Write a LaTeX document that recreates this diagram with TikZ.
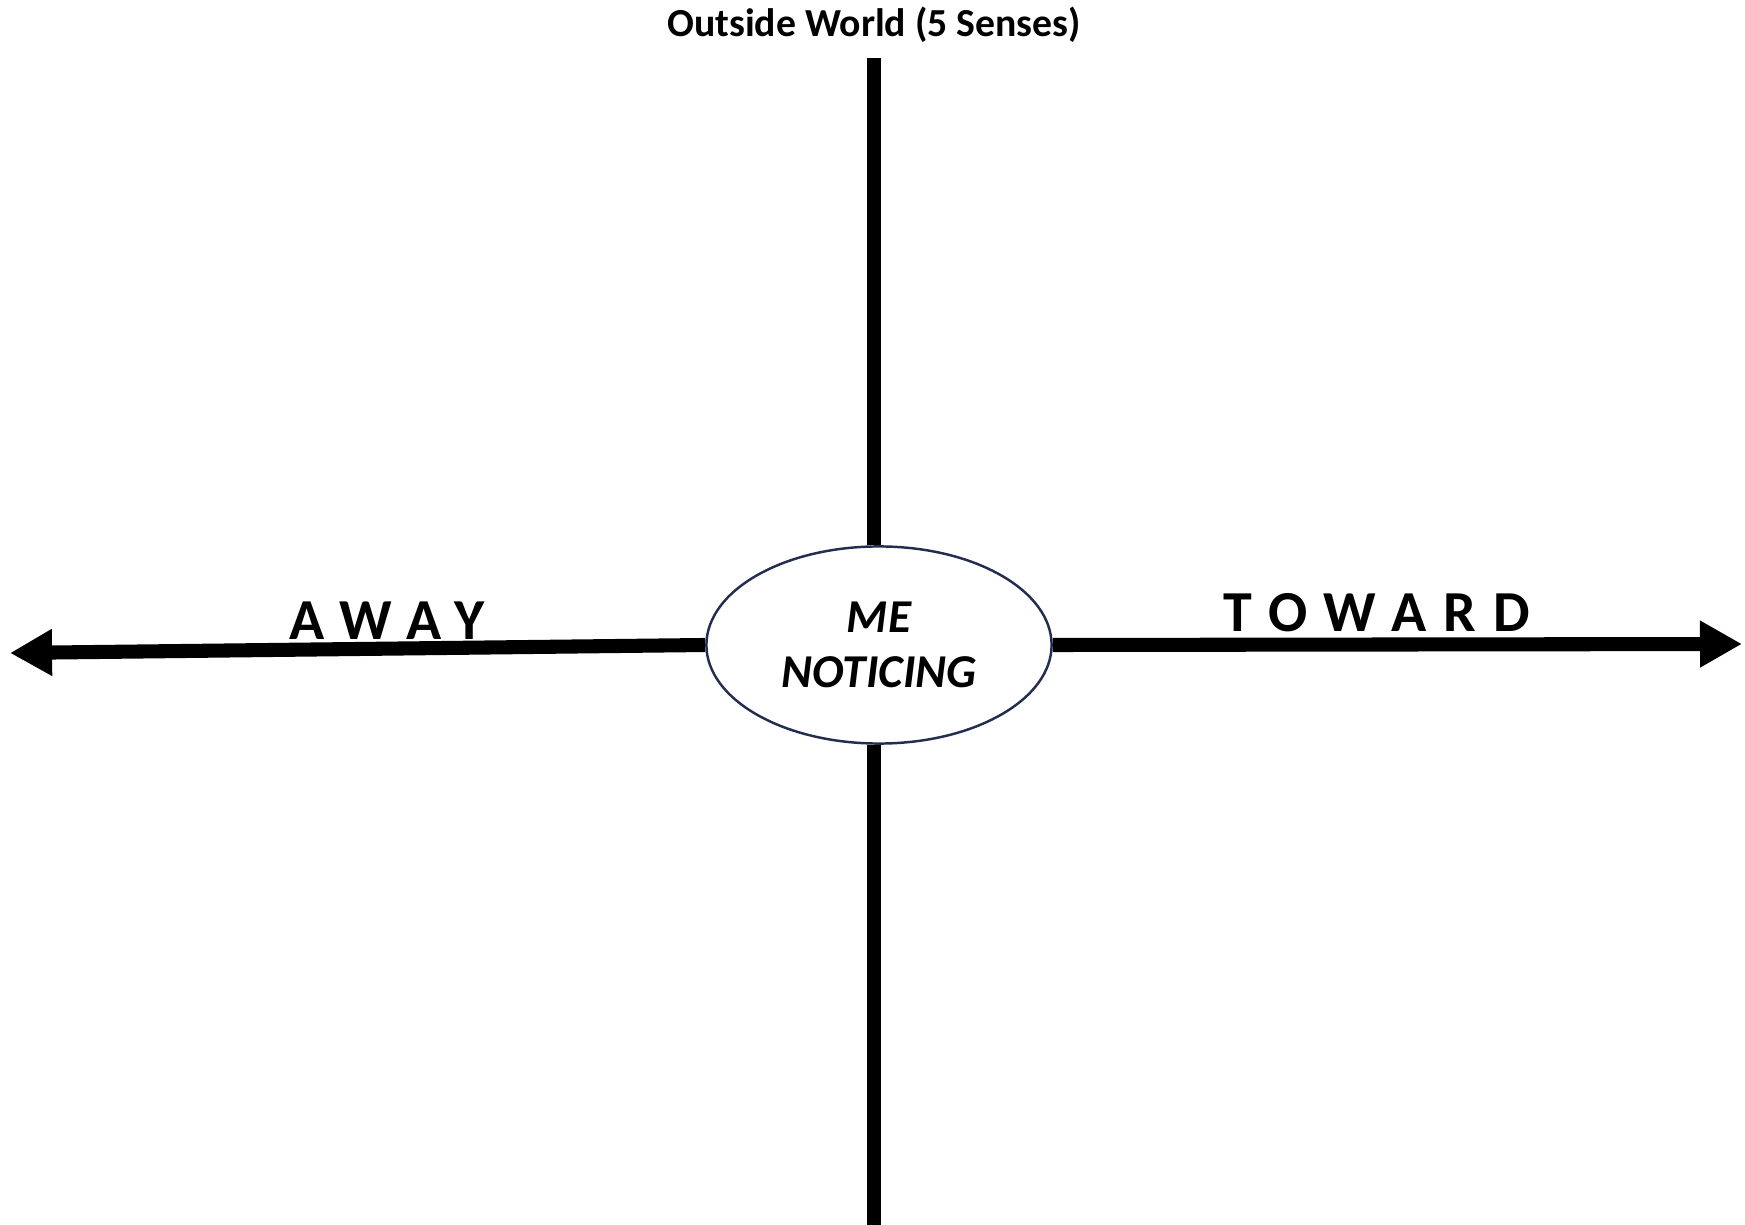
\documentclass[tikz,border=0pt]{standalone}
\usepackage{fontspec}
\setmainfont{Carlito}
\usepackage{tikz}
\usetikzlibrary{shapes.geometric, arrows.meta, positioning, calc}

\begin{document}
\begin{tikzpicture}[
  x=0.01cm, y=-0.01cm,
  axis/.style={line width=4pt, black},
  axisarrow/.style={axis, -{Triangle[length=0.42cm, width=0.44cm]}},
  centre/.style={
    ellipse, draw={rgb,255:red,35;green,45;blue,80}, line width=0.7pt,
    fill=white, minimum width=3.45cm, minimum height=1.97cm,
    inner sep=0pt, align=center,
    font=\fontsize{13.4pt}{15.6pt}\selectfont\bfseries\itshape
  },
  direction/.style={anchor=base, font=\fontsize{16.5pt}{19pt}\selectfont\bfseries
    \addfontfeatures{LetterSpace=30}}
]
\useasboundingbox (0,0) rectangle (1745,1225);

% ---- Centre ----
\node[centre] (me) at (879,645) {ME\\NOTICING};

% ---- Title ----
\node[anchor=base, font=\fontsize{11.3pt}{13pt}\selectfont\bfseries] (world)
  at (874,37) {Outside World (5 Senses)};

% ---- Free ends of the axes ----
\coordinate (top) at (874,58);
\coordinate (bottom) at (874,1225);
\coordinate (awayend) at (10,653);
\coordinate (towardend) at (1742,644);

% ---- Vertical axis ----
\draw[axis] (top) -- (top |- me.north);
\draw[axis] (bottom |- me.south) -- (bottom);

% ---- Horizontal arrows ----
\draw[axisarrow] (me.west) -- (awayend);
\draw[axisarrow] (me.east) -- (towardend);

% ---- Direction labels ----
\node[direction] (away) at (387,640) {AWAY};
\node[direction] (toward) at (1377,632) {TOWARD};

\end{tikzpicture}
\end{document}
